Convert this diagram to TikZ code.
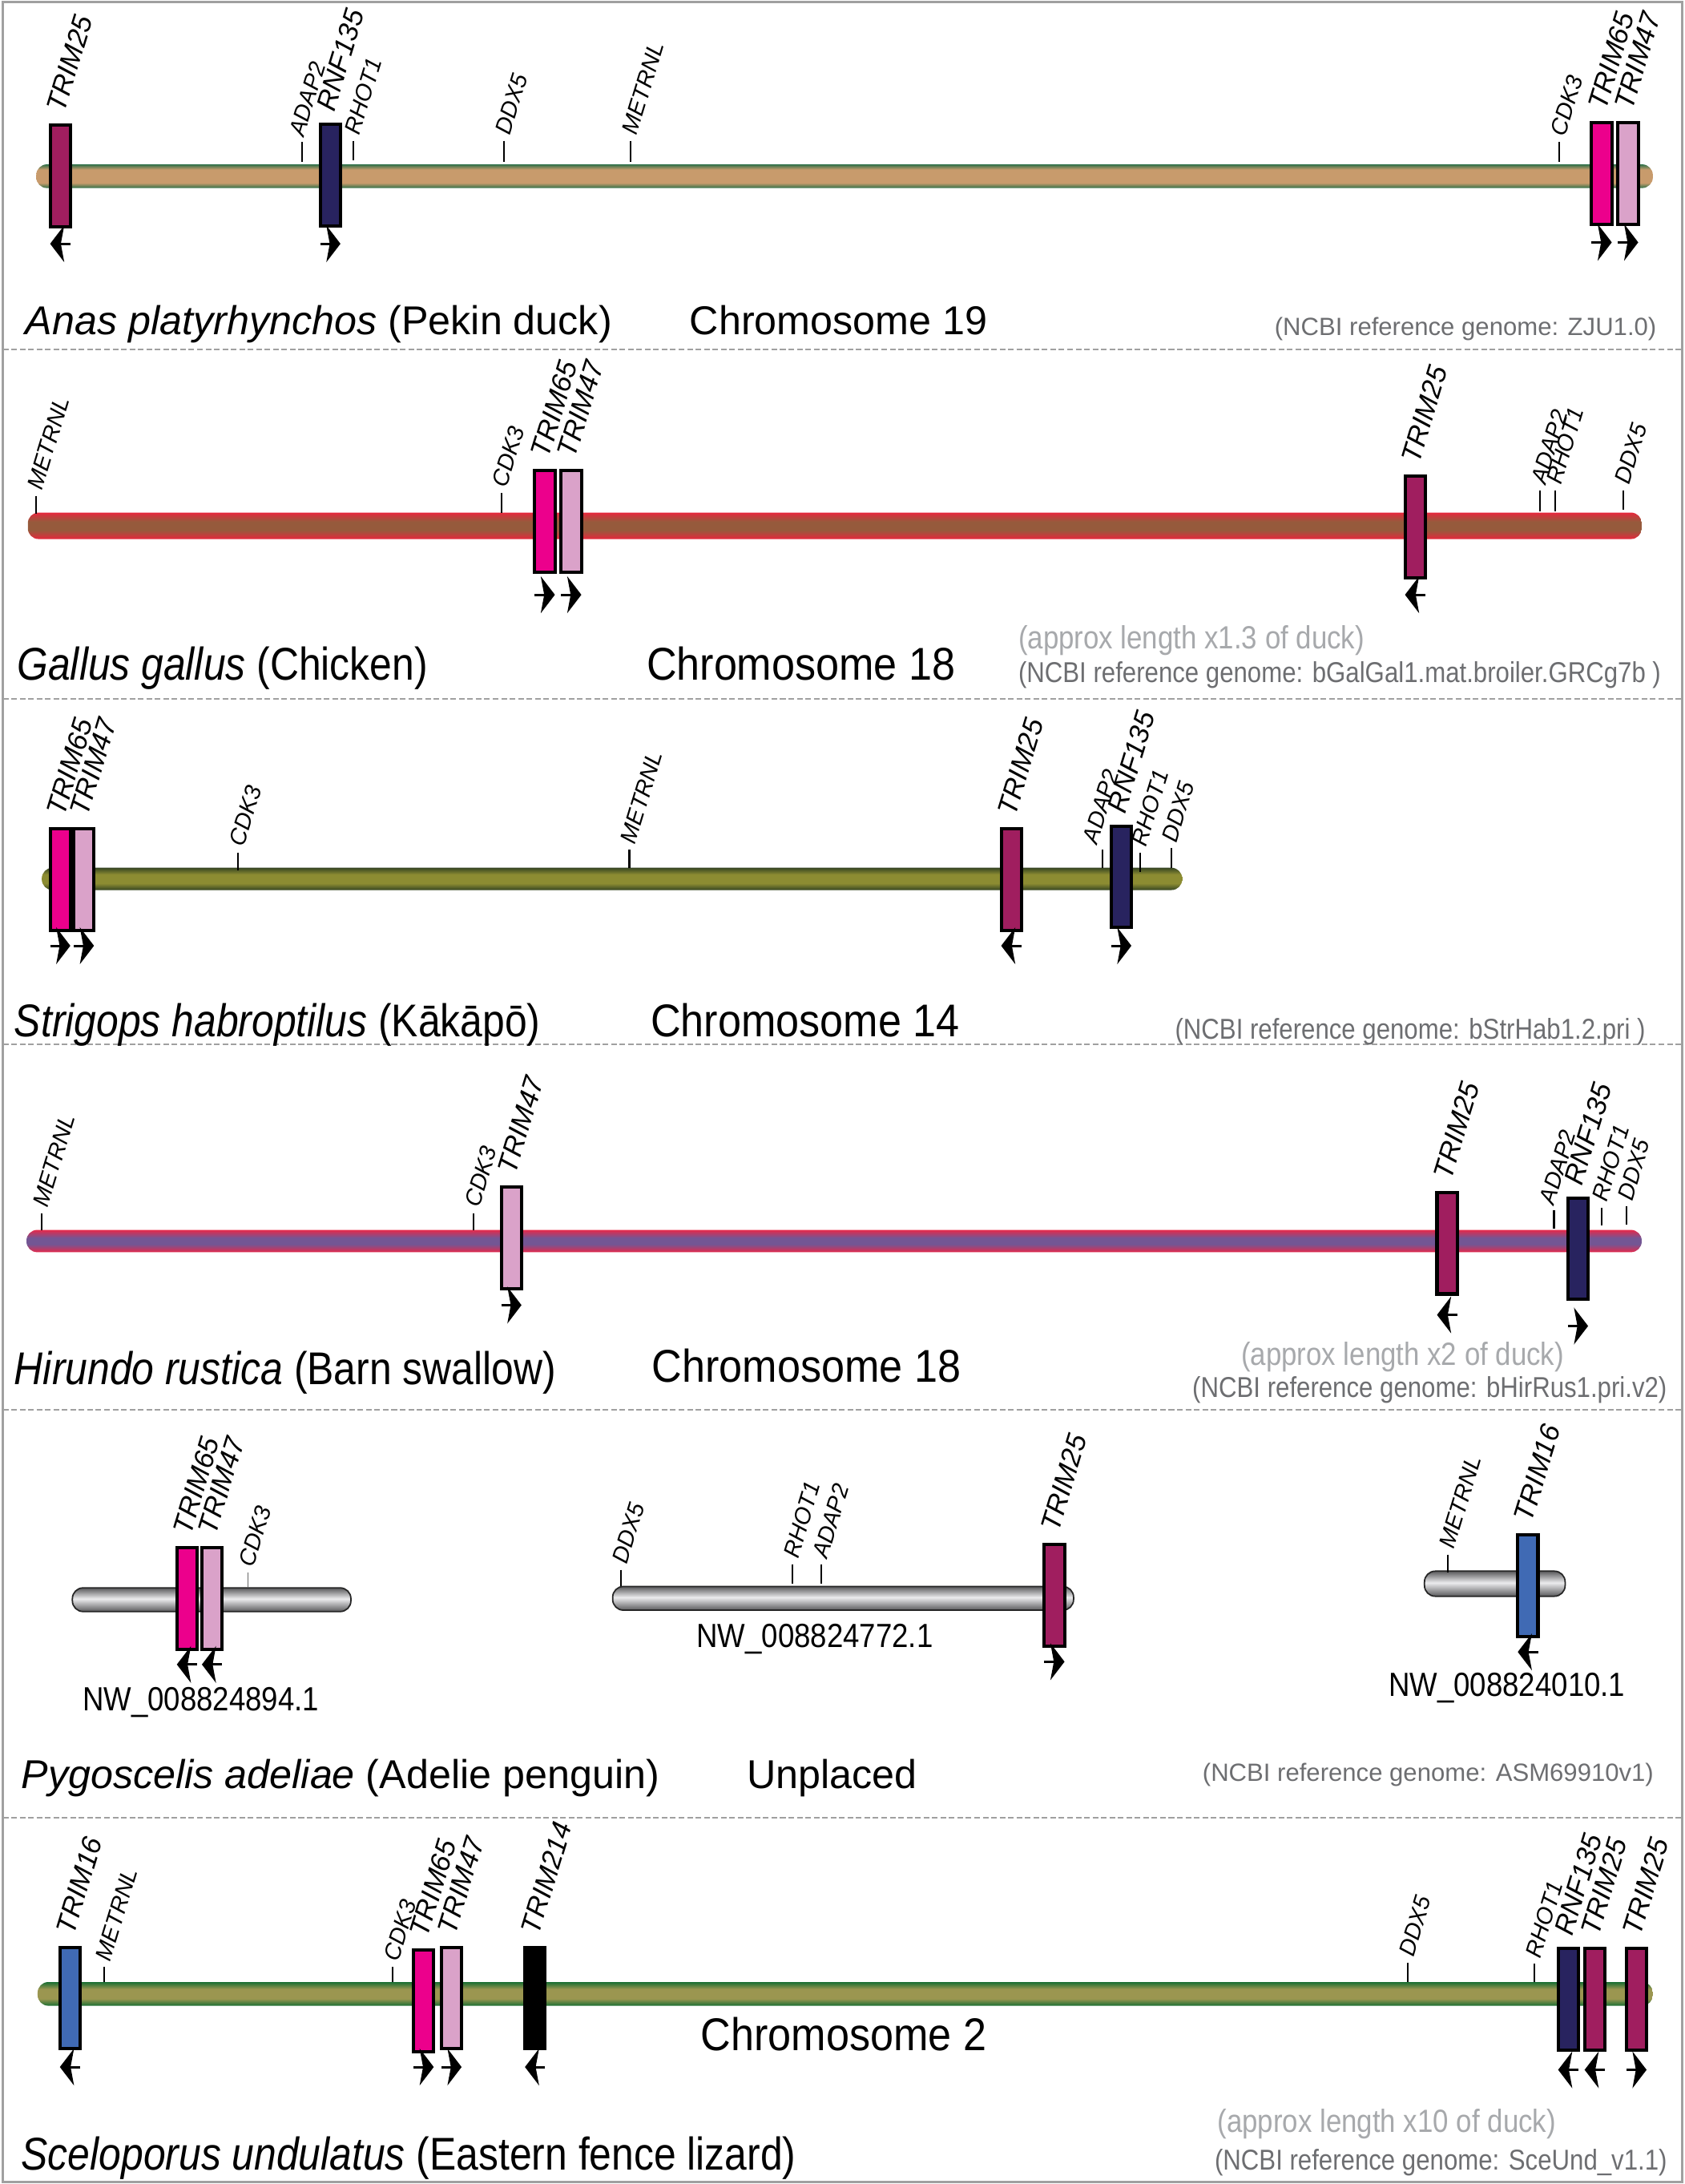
\documentclass[tikz,border=0pt]{standalone}
\usepackage{fontspec}
\setmainfont{Liberation Sans}
\usetikzlibrary{arrows.meta}

\definecolor{c25}{HTML}{A01E5F}
\definecolor{c135}{HTML}{28235F}
\definecolor{c65}{HTML}{EC008C}
\definecolor{c47}{HTML}{DAA2C9}
\definecolor{c16}{HTML}{406AB4}
\definecolor{notegray}{HTML}{6D6E71}
\definecolor{lengray}{HTML}{A7A9AC}
\definecolor{framegray}{HTML}{A0A0A0}
\definecolor{duckedge}{HTML}{2E7048}
\definecolor{duckmid}{HTML}{C89B6C}
\definecolor{chickedge}{HTML}{E6283C}
\definecolor{chickmid}{HTML}{965A3C}
\definecolor{kakedge}{HTML}{364522}
\definecolor{kakmid}{HTML}{8C8C32}
\definecolor{swalledge}{HTML}{E6284A}
\definecolor{swallmid}{HTML}{735694}
\definecolor{lizedge}{HTML}{196E32}
\definecolor{lizmid}{HTML}{9B9650}
\definecolor{pengedge}{HTML}{5A5A5C}
\definecolor{pengmid}{HTML}{ECECEE}

\pgfdeclareverticalshading{duckbar}{100bp}{color(0bp)=(duckedge); color(25bp)=(duckedge); color(36bp)=(duckmid); color(64bp)=(duckmid); color(75bp)=(duckedge); color(100bp)=(duckedge)}
\pgfdeclareverticalshading{chickbar}{100bp}{color(0bp)=(chickedge); color(25bp)=(chickedge); color(42bp)=(chickmid); color(58bp)=(chickmid); color(75bp)=(chickedge); color(100bp)=(chickedge)}
\pgfdeclareverticalshading{kakbar}{100bp}{color(0bp)=(kakedge); color(25bp)=(kakedge); color(40bp)=(kakmid); color(60bp)=(kakmid); color(75bp)=(kakedge); color(100bp)=(kakedge)}
\pgfdeclareverticalshading{swallbar}{100bp}{color(0bp)=(swalledge); color(25bp)=(swalledge); color(43bp)=(swallmid); color(57bp)=(swallmid); color(75bp)=(swalledge); color(100bp)=(swalledge)}
\pgfdeclareverticalshading{lizbar}{100bp}{color(0bp)=(lizedge); color(25bp)=(lizedge); color(40bp)=(lizmid); color(60bp)=(lizmid); color(75bp)=(lizedge); color(100bp)=(lizedge)}
\pgfdeclareverticalshading{pengbar}{100bp}{color(0bp)=(pengedge); color(25bp)=(pengedge); color(52bp)=(pengmid); color(75bp)=(pengedge); color(100bp)=(pengedge)}

\tikzset{
	chrombar/.style={rounded corners=3.8pt},
	genebox/.style={draw=black, line width=1.15pt},
	tickline/.style={line width=0.6pt},
	strandarrow/.style={line width=0.85pt, -{Stealth[length=5pt,width=13pt,inset=1.2pt]}},
	biglab/.style={anchor=base west, rotate=73, inner sep=0pt, font=\fontsize{9.9}{11}\selectfont\itshape},
	smalllab/.style={anchor=base west, rotate=73, inner sep=0pt, font=\fontsize{8.2}{9}\selectfont\itshape},
	spname/.style={anchor=base west, inner sep=0pt, font=\fontsize{14.3}{16}\selectfont},
	spcond/.style={anchor=base west, inner sep=0pt, font=\fontsize{16.3}{18}\selectfont, xscale=0.87},
	chrcond/.style={anchor=base west, inner sep=0pt, font=\fontsize{16.3}{18}\selectfont, xscale=0.91},
	ncbinote/.style={anchor=base west, inner sep=0pt, text=notegray, font=\fontsize{8.85}{10}\selectfont},
	ncbicond/.style={anchor=base west, inner sep=0pt, text=notegray, font=\fontsize{10.2}{11}\selectfont, xscale=0.87},
	lennote/.style={anchor=base west, inner sep=0pt, text=lengray, font=\fontsize{11.4}{12}\selectfont, xscale=0.87},
	nwlab/.style={anchor=base west, inner sep=0pt, font=\fontsize{11.9}{13}\selectfont, xscale=0.875},
	sepline/.style={framegray, line width=0.6pt, dash pattern=on 2pt off 1pt}
}

% left x, top y, fill, label, arrow y, direction (1 right, 0 left)
\newcommand{\gene}[6]{%
	\draw[genebox, fill=#3] (#1,#2) rectangle ++(14.5,73);
	\node[biglab] (#4-#1) at (#1+10,#2-8) {#4};
	\draw[strandarrow] ({#1+14.5*(1-#6)},#5) -- ({#1+14.5*#6},#5);
}
% [label shift] x, top y, bottom y, label
\newcommand{\gtick}[5][4]{%
	\draw[tickline] (#2,#3) -- (#2,#4);
	\node[smalllab] (#5-#2) at (#2+#1,#3-3) {#5};
}

\begin{document}
\begin{tikzpicture}[x=0.1738mm,y=-0.1738mm]
		\fill[white] (0,0) rectangle (1210,1568);
		\useasboundingbox (0,0) rectangle (1210,1568);
		\draw[framegray, line width=0.7pt] (2,1.5) rectangle (1208,1566.5);
		\foreach \y in {251,502,750,1012,1305}
			\draw[sepline] (2,\y) -- (1208,\y);

		\shade[chrombar, shading=duckbar] (26,118) rectangle (1187,135);
		\gtick[1]{217}{102}{116}{ADAP2}
		\gtick{254}{101}{115}{RHOT1}
		\gtick{362}{101}{116}{DDX5}
		\gtick{453}{101}{116}{METRNL}
		\gtick{1120}{102}{116}{CDK3}
		\gene{36}{90}{c25}{TRIM25}{175}{0}
		\gene{230}{89}{c135}{RNF135}{175}{1}
		\gene{1143}{88}{c65}{TRIM65}{174}{1}
		\gene{1162}{88}{c47}{TRIM47}{174}{1}
		\node[spname] (duck) at (18,240) {\textit{Anas platyrhynchos} (Pekin duck)};
		\node[spname] (chr19) at (495,240) {Chromosome 19};
		\node[ncbinote, anchor=base east] (ref1) at (1190,241) {(NCBI reference genome: ZJU1.0)};

		\shade[chrombar, shading=chickbar] (20,368) rectangle (1179,387);
		\gtick{26}{356}{369}{METRNL}
		\gtick{360}{354}{368}{CDK3}
		\gtick{1106}{352}{367}{ADAP2}
		\gtick{1117}{352}{367}{RHOT1}
		\gtick{1166}{352}{366}{DDX5}
		\gene{384}{338}{c65}{TRIM65}{427}{1}
		\gene{403}{338}{c47}{TRIM47}{427}{1}
		\gene{1009}{342}{c25}{TRIM25}{427}{0}
		\node[spcond] (chicken) at (12,488) {\textit{Gallus gallus} (Chicken)};
		\node[chrcond] (chr18a) at (464,488) {Chromosome 18};
		\node[lennote] (len2) at (731,466) {(approx length x1.3 of duck)};
		\node[ncbicond] (ref2) at (731,490) {(NCBI reference genome: bGalGal1.mat.broiler.GRCg7b )};

		\shade[chrombar, shading=kakbar] (30,623) rectangle (849,639);
		\gtick{171}{612}{625}{CDK3}
		\gtick{452}{610}{623}{METRNL}
		\gtick[-4]{792}{610}{623}{ADAP2}
		\gtick{819}{612}{626}{RHOT1}
		\gtick{841}{609}{623}{DDX5}
		\gene{36}{595}{c65}{TRIM65}{679}{1}
		\gene{53}{595}{c47}{TRIM47}{679}{1}
		\gene{719}{595}{c25}{TRIM25}{679}{0}
		\gene{798}{593}{c135}{RNF135}{679}{1}
		\node[spcond] (kakapo) at (10,744) {\textit{Strigops habroptilus} (Kākāpō)};
		\node[chrcond] (chr14) at (467,744) {Chromosome 14};
		\node[ncbicond, anchor=base east] (ref3) at (1182,746) {(NCBI reference genome: bStrHab1.2.pri )};

		\shade[chrombar, shading=swallbar] (19,883) rectangle (1179,899);
		\gtick{30}{871}{883}{METRNL}
		\gtick{340}{871}{883}{CDK3}
		\gtick[0]{1116}{869}{882}{ADAP2}
		\gtick{1150}{867}{880}{RHOT1}
		\gtick{1168}{866}{879}{DDX5}
		\gene{360}{852}{c47}{TRIM47}{937}{1}
		\gene{1032}{856}{c25}{TRIM25}{944}{0}
		\gene{1126}{860}{c135}{RNF135}{952}{1}
		\node[spcond] (swallow) at (10,994) {\textit{Hirundo rustica} (Barn swallow)};
		\node[chrcond] (chr18b) at (468,992) {Chromosome 18};
		\node[lennote] (len4) at (891,980) {(approx length x2 of duck)};
		\node[ncbicond] (ref4) at (856,1003) {(NCBI reference genome: bHirRus1.pri.v2)};

		\shade[chrombar, shading=pengbar, draw=black!85, line width=0.5pt] (52,1140) rectangle (252,1157);
		\shade[chrombar, shading=pengbar, draw=black!85, line width=0.5pt] (440,1139) rectangle (771,1156);
		\shade[chrombar, shading=pengbar, draw=black!85, line width=0.5pt] (1023,1128) rectangle (1124,1146);
		\draw[black!60, line width=0.4pt] (178,1129) -- (178,1140);
		\node[smalllab] (CDK3-178) at (182,1126) {CDK3};
		\gtick{446}{1127}{1139}{DDX5}
		\gtick{569}{1123}{1137}{RHOT1}
		\gtick{590}{1123}{1137}{ADAP2}
		\gtick{1040}{1116}{1129}{METRNL}
		\gene{127}{1111}{c65}{TRIM65}{1195}{0}
		\gene{145}{1111}{c47}{TRIM47}{1195}{0}
		\gene{750}{1109}{c25}{TRIM25}{1193}{1}
		\gene{1090}{1102}{c16}{TRIM16}{1186}{0}
		\node[nwlab] (nw1) at (59,1228) {NW\_008824894.1};
		\node[nwlab] (nw2) at (500,1183) {NW\_008824772.1};
		\node[nwlab] (nw3) at (997,1218) {NW\_008824010.1};
		\node[spname] (penguin) at (15,1284) {\textit{Pygoscelis adeliae} (Adelie penguin)};
		\node[spname] (unpl) at (536,1284) {Unplaced};
		\node[ncbinote, anchor=base east] (ref5) at (1188,1279) {(NCBI reference genome: ASM69910v1)};

		\shade[chrombar, shading=lizbar] (27,1423) rectangle (1187,1440);
		\gtick{75}{1412}{1423}{METRNL}
		\gtick{282}{1412}{1423}{CDK3}
		\gtick{1011}{1409}{1423}{DDX5}
		\gtick{1102}{1410}{1423}{RHOT1}
		\gene{43}{1398}{c16}{TRIM16}{1484}{0}
		\gene{297}{1400}{c65}{TRIM65}{1484}{1}
		\gene{317}{1398}{c47}{TRIM47}{1484}{1}
		\gene{377}{1398}{black}{TRIM214}{1484}{0}
		\gene{1119}{1399}{c135}{RNF135}{1486}{0}
		\gene{1138}{1399}{c25}{TRIM25}{1486}{0}
		\gene{1168}{1399}{c25}{TRIM25}{1486}{1}
		\node[chrcond] (chr2) at (503,1472) {Chromosome 2};
		\node[spcond] (lizard) at (15,1558) {\textit{Sceloporus undulatus} (Eastern fence lizard)};
		\node[lennote] (len6) at (874,1531) {(approx length x10 of duck)};
		\node[ncbicond] (ref6) at (872,1558) {(NCBI reference genome: SceUnd\_v1.1)};
\end{tikzpicture}
\end{document}
